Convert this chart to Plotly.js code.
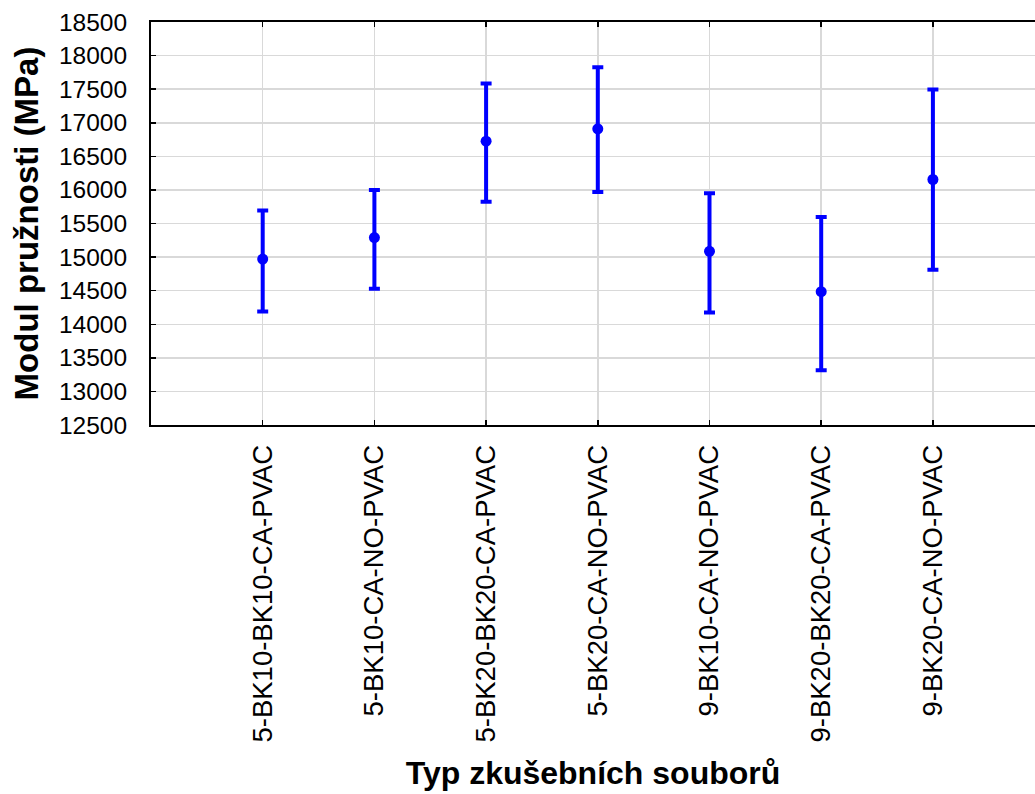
<!DOCTYPE html>
<html>
<head>
<meta charset="utf-8">
<script src="https://cdn.plot.ly/plotly-3.0.1.min.js"></script>
<style>html,body{margin:0;padding:0;background:#fff;}</style>
</head>
<body>
<div id="chart" style="width:1035px;height:794px;"></div>
<script>
const categories = ["5-BK10-BK10-CA-PVAC","5-BK10-CA-NO-PVAC","5-BK20-BK20-CA-PVAC","5-BK20-CA-NO-PVAC","9-BK10-CA-NO-PVAC","9-BK20-BK20-CA-PVAC","9-BK20-CA-NO-PVAC"];
const means = [14970, 15290, 16725, 16910, 15085, 14485, 16155];
const upper = [15695, 16000, 17585, 17825, 15950, 15595, 17495];
const lower = [14190, 14530, 15825, 15970, 14175, 13315, 14810];
const yTicks = [12500,13000,13500,14000,14500,15000,15500,16000,16500,17000,17500,18000,18500];

const errPlus = means.map((m,i)=>upper[i]-m);
const errMinus = means.map((m,i)=>m-lower[i]);

const trace = {
  type: 'scatter',
  mode: 'markers',
  x: categories,
  y: means,
  marker: {color: '#0000ff', size: 11},
  error_y: {type: 'data', symmetric: false, array: errPlus, arrayminus: errMinus,
            color: '#0000ff', thickness: 4, width: 5.5},
  showlegend: false,
  hoverinfo: 'x+y'
};

const layout = {
  width: 1035, height: 794,
  margin: {l: 151, r: 0, t: 22, b: 368.5},
  paper_bgcolor: '#fff', plot_bgcolor: '#fff',
  font: {family: '"Liberation Sans", Arial, sans-serif', color: '#000'},
  xaxis: {
    type: 'category',
    range: [-1, 6.914],
    showgrid: true, gridcolor: '#d9d9d9', gridwidth: 1.5,
    showline: true, linecolor: '#000', linewidth: 2, mirror: 'ticks',
    ticks: 'inside', ticklen: 5, tickwidth: 1.5, tickcolor: '#000',
    tickangle: -90,
    ticklabelstandoff: 7,
    tickfont: {size: 27.5, color: '#000'},
    title: {text: '<b>Typ zkušebních souborů</b>', font: {size: 32, color: '#000'}, standoff: 20},
    zeroline: false, automargin: false
  },
  yaxis: {
    range: [12500, 18500],
    tickvals: yTicks,
    ticktext: yTicks.map(String),
    showgrid: true, gridcolor: '#d9d9d9', gridwidth: 1.5,
    showline: true, linecolor: '#000', linewidth: 2, mirror: false,
    ticks: 'inside', ticklen: 5, tickwidth: 1.5, tickcolor: '#000',
    ticklabelstandoff: 17,
    tickfont: {size: 24.5, color: '#000'},
    title: {text: '<b>Modul pružnosti (MPa)</b>', font: {size: 33, color: '#000'}, standoff: 10},
    zeroline: false, automargin: false
  }
};

Plotly.newPlot('chart', [trace], layout, {displayModeBar: false, staticPlot: true});
</script>
</body>
</html>
